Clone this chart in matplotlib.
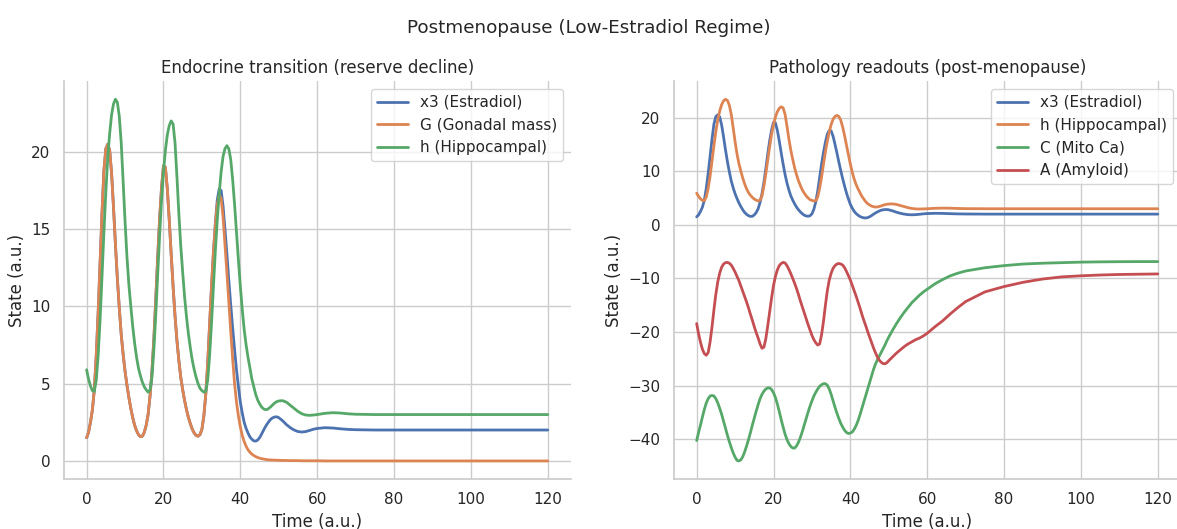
import matplotlib
matplotlib.use("Agg")
import seaborn as sns
from matplotlib import pyplot as plt

sns.set_theme(style="whitegrid")
plt.rcParams['font.family'] = ['DejaVu Sans']

# time points (a.u.): half steps up to 50, then coarser
t = ([i / 2 for i in range(0, 101)] + list(range(51, 61))
     + [62, 64, 66, 68, 70] + [75, 80, 85, 90, 95, 100, 105, 110, 115, 120])

# G (Gonadal mass)
G = [1.5, 1.85, 2.5, 3.3, 4.6, 6.8, 9.6, 12.8, 16.0, 18.8,
     20.2, 20.5, 20.1, 18.6, 16.4, 14.0, 11.8, 9.9, 8.2, 6.9,
     5.8, 4.9, 4.1, 3.4, 2.8, 2.3, 1.95, 1.7, 1.57, 1.6,
     1.85, 2.3, 3.0, 4.2, 5.8, 7.9, 10.5, 13.2, 15.7, 17.7,
     19.1, 19.0, 17.6, 15.6, 13.4, 11.3, 9.4, 7.8, 6.5, 5.4,
     4.6, 3.9, 3.3, 2.8, 2.4, 2.05, 1.8, 1.65, 1.6, 1.7,
     2.05, 2.9, 4.3, 6.3, 8.8, 11.3, 13.5, 15.3, 16.6, 17.2,
     17.0, 15.8, 14.0, 12.2, 10.3, 8.4, 6.6, 5.0, 3.8, 2.9,
     2.2, 1.65, 1.25, 0.95, 0.72, 0.56, 0.44, 0.35, 0.28, 0.22,
     0.18, 0.15, 0.12, 0.1, 0.08, 0.07, 0.06, 0.055, 0.05, 0.045,
     0.04, 0.03, 0.03, 0.02, 0.02, 0.02, 0.01, 0.01, 0.01, 0.01, 0.01,
     0.0, 0.0, 0.0, 0.0, 0.0,
     0.0, 0.0, 0.0, 0.0, 0.0, 0.0, 0.0, 0.0, 0.0, 0.0]

# x3 (Estradiol)
x3 = [1.5, 1.85, 2.5, 3.3, 4.6, 6.8, 9.6, 12.8, 16.0, 18.8,
      20.2, 20.5, 20.1, 18.6, 16.4, 14.0, 11.8, 9.9, 8.2, 6.9,
      5.8, 4.9, 4.1, 3.4, 2.8, 2.3, 1.95, 1.7, 1.57, 1.6,
      1.85, 2.3, 3.0, 4.2, 5.8, 7.9, 10.5, 13.2, 15.7, 17.7,
      19.1, 19.0, 17.6, 15.6, 13.4, 11.3, 9.4, 7.8, 6.5, 5.4,
      4.6, 3.9, 3.3, 2.8, 2.4, 2.05, 1.8, 1.65, 1.6, 1.7,
      2.05, 2.9, 4.3, 6.3, 8.8, 11.3, 13.5, 15.4, 16.9, 17.6,
      17.5, 16.5, 15.0, 13.4, 11.7, 10.1, 8.6, 7.2, 5.9, 4.8,
      3.8, 3.1, 2.5, 2.1, 1.8, 1.55, 1.4, 1.3, 1.28, 1.35,
      1.5, 1.72, 1.97, 2.2, 2.4, 2.58, 2.72, 2.8, 2.85, 2.85,
      2.8, 2.6, 2.35, 2.15, 2.0, 1.9, 1.87, 1.9, 1.97, 2.05, 2.1,
      2.15, 2.13, 2.08, 2.04, 2.02,
      2.0, 2.0, 2.0, 2.0, 2.0, 2.0, 2.0, 2.0, 2.0, 2.0]

# h (Hippocampal)
h = [5.9, 5.3, 4.85, 4.55, 4.5, 5.2, 6.8, 9.1, 11.9, 14.8,
     17.4, 19.6, 21.2, 22.4, 23.1, 23.4, 23.2, 22.3, 20.6, 18.1,
     15.5, 13.2, 11.4, 10.0, 8.7, 7.6, 6.7, 6.0, 5.5, 5.1,
     4.8, 4.6, 4.45, 4.6, 5.4, 7.2, 9.5, 12.1, 14.6, 16.9,
     18.7, 20.1, 21.1, 21.7, 22.0, 21.8, 20.6, 18.4, 16.0, 13.9,
     12.2, 10.6, 9.3, 8.2, 7.3, 6.5, 5.9, 5.4, 5.0, 4.7,
     4.55, 4.45, 4.5, 5.2, 6.8, 8.9, 11.3, 13.6, 15.6, 17.3,
     18.7, 19.7, 20.2, 20.4, 20.2, 19.5, 18.2, 16.6, 14.8, 13.0,
     11.3, 9.8, 8.5, 7.5, 6.7, 6.0, 5.3, 4.8, 4.3, 3.95,
     3.7, 3.5, 3.38, 3.32, 3.33, 3.42, 3.52, 3.65, 3.76, 3.84,
     3.88, 3.9, 3.8, 3.6, 3.4, 3.2, 3.05, 2.97, 2.95, 2.97, 3.0,
     3.08, 3.12, 3.1, 3.05, 3.02,
     3.0, 3.0, 3.0, 3.0, 3.0, 3.0, 3.0, 3.0, 3.0, 3.0]

# C (Mito Ca)
C = [-40.2, -38.7, -37.3, -35.8, -34.4, -33.2, -32.4, -31.9, -31.8, -31.9,
     -32.4, -33.2, -34.2, -35.3, -36.6, -37.9, -39.2, -40.4, -41.5, -42.5,
     -43.3, -43.9, -44.0, -43.8, -43.2, -42.3, -41.2, -40.0, -38.7, -37.3,
     -36.0, -34.7, -33.5, -32.4, -31.6, -31.0, -30.6, -30.4, -30.4, -30.7,
     -31.3, -32.2, -33.4, -34.8, -36.3, -37.7, -39.0, -40.0, -40.8, -41.3,
     -41.6, -41.6, -41.2, -40.5, -39.6, -38.5, -37.3, -36.1, -34.9, -33.8,
     -32.8, -31.9, -31.2, -30.6, -30.1, -29.8, -29.6, -29.6, -29.9, -30.6,
     -31.6, -32.8, -34.0, -35.1, -36.1, -37.0, -37.7, -38.3, -38.7, -38.9,
     -38.8, -38.6, -38.1, -37.4, -36.5, -35.4, -34.2, -33.0, -31.8, -30.6,
     -29.4, -28.2, -27.0, -26.0, -25.2, -24.5, -23.8, -23.1, -22.4, -21.6,
     -20.9, -19.6, -18.4, -17.3, -16.3, -15.4, -14.5, -13.8, -13.1, -12.5, -12.0,
     -11.0, -10.2, -9.5, -9.0, -8.6,
     -8.0, -7.6, -7.3, -7.15, -7.05, -6.95, -6.9, -6.87, -6.85, -6.85]

# A (Amyloid)
A = [-18.4, -20.3, -21.9, -23.2, -24.0, -24.3, -23.8, -21.8, -19.0, -15.8,
     -12.9, -10.6, -9.0, -7.9, -7.3, -7.05, -7.0, -7.15, -7.5, -8.1,
     -8.8, -9.6, -10.4, -11.4, -12.4, -13.4, -14.4, -15.5, -16.7, -17.8,
     -19.0, -20.1, -21.1, -22.2, -23.0, -22.8, -21.2, -18.8, -16.2, -13.6,
     -11.3, -9.6, -8.4, -7.6, -7.2, -7.0, -7.1, -7.6, -8.3, -9.1,
     -10.0, -10.9, -11.9, -13.0, -14.2, -15.3, -16.4, -17.5, -18.6, -19.6,
     -20.6, -21.4, -22.0, -22.4, -22.2, -20.5, -18.0, -15.0, -12.3, -10.3,
     -9.0, -8.1, -7.6, -7.3, -7.2, -7.3, -7.5, -8.0, -8.7, -9.5,
     -10.3, -11.3, -12.3, -13.3, -14.4, -15.5, -16.7, -17.8, -18.8, -19.9,
     -20.9, -21.9, -22.9, -23.8, -24.6, -25.2, -25.6, -25.85, -25.9, -25.7,
     -25.3, -24.6, -23.9, -23.3, -22.7, -22.2, -21.8, -21.4, -21.1, -20.7, -20.2,
     -19.0, -17.9, -16.6, -15.4, -14.3,
     -12.5, -11.5, -10.7, -10.1, -9.7, -9.5, -9.35, -9.25, -9.2, -9.15]

fig = plt.figure(figsize=(11.77, 5.29), dpi=100)
ax1 = fig.add_axes([0.054, 0.0945, 0.431, 0.752])
ax2 = fig.add_axes([0.5723, 0.0945, 0.431, 0.752])

lw = 2
ax1.plot(t, x3, lw=lw, label='x3 (Estradiol)')
ax1.plot(t, G, lw=lw, label='G (Gonadal mass)')
ax1.plot(t, h, lw=lw, label='h (Hippocampal)')
ax1.set_title('Endocrine transition (reserve decline)', fontsize=12)
ax1.set_xlabel('Time (a.u.)', fontsize=12)
ax1.set_ylabel('State (a.u.)', fontsize=12)
ax1.legend(loc='upper right', fontsize=11)

ax2.plot(t, x3, lw=lw, label='x3 (Estradiol)')
ax2.plot(t, h, lw=lw, label='h (Hippocampal)')
ax2.plot(t, C, lw=lw, label='C (Mito Ca)')
ax2.plot(t, A, lw=lw, label='A (Amyloid)')
ax2.set_title('Pathology readouts (post-menopause)', fontsize=12)
ax2.set_xlabel('Time (a.u.)', fontsize=12)
ax2.set_ylabel('State (a.u.)', fontsize=12)
ax2.legend(loc='upper right', fontsize=11)

for ax in (ax1, ax2):
    ax.tick_params(labelsize=11)
sns.despine(fig=fig)

fig.suptitle('Postmenopause (Low-Estradiol Regime)', fontsize=13.2, y=0.965)
fig.savefig('out.png', dpi=100)
